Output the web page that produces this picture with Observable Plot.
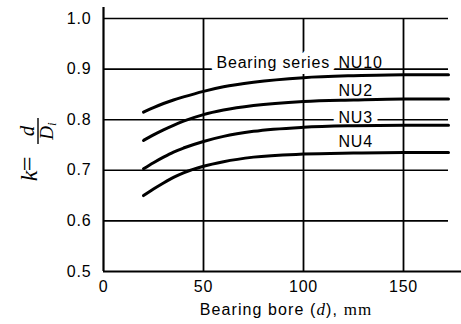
<!DOCTYPE html>
<html>
<head>
<meta charset="utf-8">
<script src="https://cdn.jsdelivr.net/npm/d3@7"></script>
<script src="https://cdn.jsdelivr.net/npm/@observablehq/plot@0.6"></script>
<style>
  html, body { margin: 0; padding: 0; background: white; }
  #chart svg text { letter-spacing: 0.8px; }
</style>
</head>
<body>
<div id="chart"></div>
<script>
// Bearing bore d (mm)
const bore = [20, 25, 30, 35, 40, 50, 60, 75, 100, 125, 150, 172.5];
// k = d / Di for each bearing series
const nu10 = [0.815, 0.824, 0.832, 0.839, 0.845, 0.856, 0.865, 0.874, 0.883, 0.887, 0.889, 0.889];
const nu2  = [0.759, 0.770, 0.780, 0.789, 0.797, 0.810, 0.819, 0.828, 0.836, 0.839, 0.841, 0.841];
const nu3  = [0.703, 0.715, 0.726, 0.736, 0.744, 0.757, 0.767, 0.777, 0.785, 0.788, 0.789, 0.789];
const nu4  = [0.650, 0.663, 0.675, 0.686, 0.695, 0.708, 0.717, 0.726, 0.732, 0.734, 0.735, 0.735];
const seriesNames = ["NU10", "NU2", "NU3", "NU4"];
const seriesValues = [nu10, nu2, nu3, nu4];

const xTicks = [0, 50, 100, 150];
const yTicks = [0.5, 0.6, 0.7, 0.8, 0.9, 1.0];
const xGridLines = [50, 100, 150];
const yGridLines = [0.6, 0.7, 0.8, 0.9, 1.0];
const xMax = 179;       // end of x axis line
const gridEnd = 172.5;  // end of the grid lines and curves
const yMax = 1.0217;    // top of y axis line

// in-chart annotations (data-unit anchors)
const labelText = ["Bearing series", "NU10", "NU2", "NU3", "NU4"];
const labelX    = [56.5, 117.5, 117.5, 117.5, 117.5];
const labelY    = [0.913, 0.913, 0.857, 0.8036, 0.756];
const labelKnockout = [true, false, false, true, false];

const rows = [];
seriesNames.forEach((s, i) => bore.forEach((b, j) => rows.push({series: s, d: b, k: seriesValues[i][j]})));
const labels = labelText.map((t, i) => ({text: t, x: labelX[i], y: labelY[i], knockout: labelKnockout[i]}));

const chart = Plot.plot({
  width: 461,
  height: 324,
  marginLeft: 103,
  marginRight: 0,
  marginTop: 7,
  marginBottom: 53,
  style: {fontFamily: "'Liberation Sans', Arial, sans-serif", fontSize: "16px", color: "black", background: "white"},
  x: {domain: [0, xMax], ticks: xTicks, tickSize: 0, tickPadding: 9, tickFormat: d => String(d), label: null},
  y: {domain: [0.5, yMax], ticks: yTicks, tickSize: 0, tickPadding: 12, tickFormat: ".1f", label: null},
  marks: [
    Plot.ruleY(yGridLines, {x1: 0, x2: gridEnd, stroke: "black", strokeWidth: 1.6}),
    Plot.ruleX(xGridLines, {y1: 0.5, y2: 1.0, stroke: "black", strokeWidth: 1.8}),
    Plot.text(labels.filter(d => d.knockout), {
      x: "x", y: "y", text: "text", textAnchor: "start", lineAnchor: "middle",
      fill: "black", stroke: "white", strokeWidth: 12, strokeLinejoin: "round", paintOrder: "stroke", fontSize: 16
    }),
    Plot.text(labels.filter(d => !d.knockout), {
      x: "x", y: "y", text: "text", textAnchor: "start", lineAnchor: "middle", fill: "black", fontSize: 16
    }),
    Plot.line(rows, {x: "d", y: "k", z: "series", curve: "monotone-x", stroke: "black", strokeWidth: 3}),
    Plot.ruleX([0], {y1: 0.5, y2: yMax, stroke: "black", strokeWidth: 2.2}),
    Plot.ruleY([0.5], {x1: 0, x2: xMax, stroke: "black", strokeWidth: 2.2})
  ]
});
document.getElementById("chart").appendChild(chart);

const svg = d3.select(chart);

// x axis title with italic serif d and serif unit
const xt = svg.append("text")
  .attr("x", 286).attr("y", 315)
  .attr("text-anchor", "middle")
  .attr("fill", "black")
  .style("font-family", "'Liberation Sans', Arial, sans-serif")
  .style("font-size", "16px")
  .style("letter-spacing", "1.1px");
xt.append("tspan").text("Bearing bore (");
xt.append("tspan").style("font-family", "'Liberation Serif', 'Times New Roman', serif").style("font-style", "italic").style("font-size", "17px").text("d");
xt.append("tspan").text("), ");
xt.append("tspan").style("font-family", "'Liberation Serif', 'Times New Roman', serif").style("font-size", "17px").text("mm");

// y axis title: k = d / D_i (rotated)
const serif = "'Liberation Serif', 'Times New Roman', serif";
const g = svg.append("g").attr("transform", "translate(37,176) rotate(-90)")
  .style("font-family", serif).attr("fill", "black");
g.append("text").attr("x", 0).attr("y", 0).style("font-style", "italic").style("font-size", "24px").style("letter-spacing", "0").text("k");
g.append("text").attr("x", 12).attr("y", -1).style("font-size", "26px").style("letter-spacing", "0").text("=");
g.append("text").attr("x", 45).attr("y", -3).attr("text-anchor", "middle").style("font-style", "italic").style("font-size", "21px").style("letter-spacing", "0").text("d");
g.append("line").attr("x1", 32).attr("x2", 58).attr("y1", 1).attr("y2", 1).attr("stroke", "black").attr("stroke-width", 1.4);
const den = g.append("text").attr("x", 45).attr("y", 16).attr("text-anchor", "middle").style("font-style", "italic").style("font-size", "19px").style("letter-spacing", "0");
den.append("tspan").text("D");
den.append("tspan").attr("dy", 3).style("font-size", "13px").text("i");
</script>
</body>
</html>
